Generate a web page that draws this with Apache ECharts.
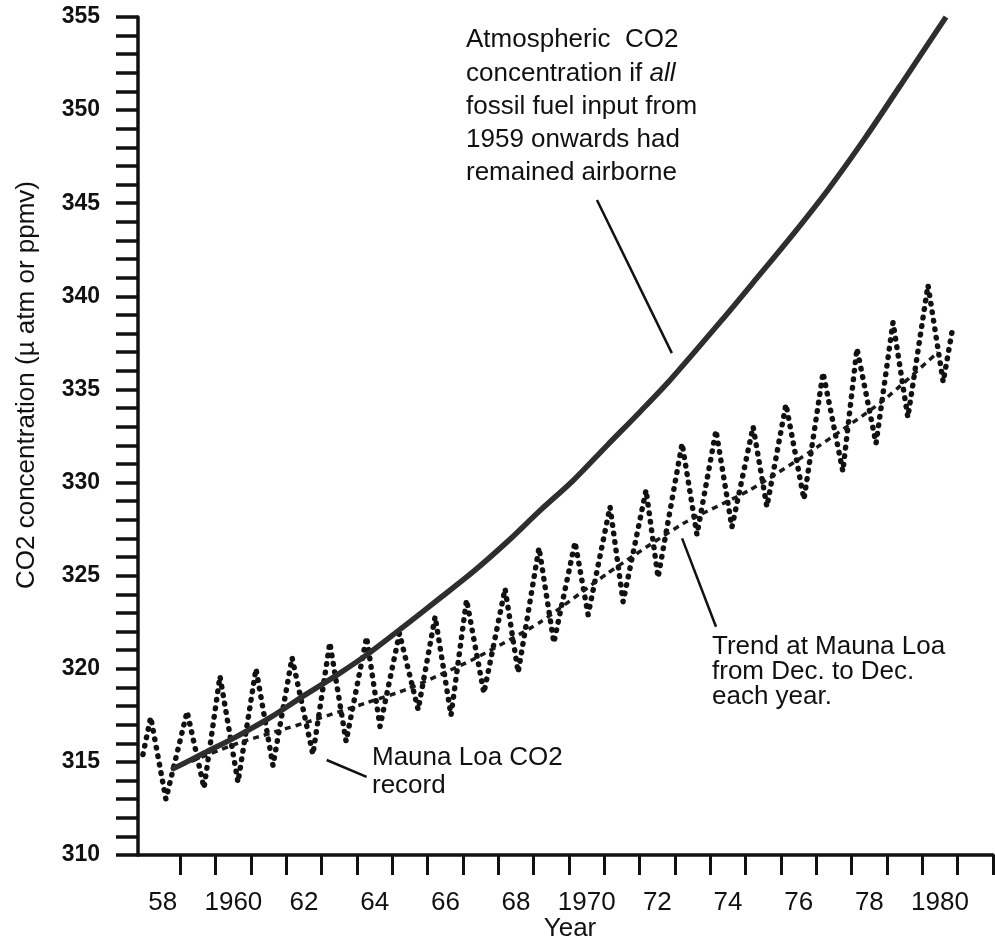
<!DOCTYPE html>
<html>
<head>
<meta charset="utf-8">
<script src="https://cdn.jsdelivr.net/npm/echarts@6/dist/echarts.min.js"></script>
<style>
  html, body { margin: 0; padding: 0; background: #ffffff; }
  #chart { width: 995px; height: 941px; }
</style>
</head>
<body>
<div id="chart"></div>
<script>
// ---------- data ----------
// Mauna Loa CO2 record (seasonal peaks / troughs)
const mlYears = [1957.94, 1958.16, 1958.59, 1959.19, 1959.67, 1960.12, 1960.63, 1961.14, 1961.62, 1962.16,
  1962.75, 1963.23, 1963.69, 1964.27, 1964.65, 1965.20, 1965.73, 1966.21, 1966.66, 1967.10,
  1967.59, 1968.19, 1968.56, 1969.15, 1969.57, 1970.17, 1970.54, 1971.16, 1971.53, 1972.18,
  1972.52, 1973.20, 1973.62, 1974.16, 1974.61, 1975.21, 1975.60, 1976.14, 1976.65, 1977.19,
  1977.75, 1978.15, 1978.69, 1979.17, 1979.59, 1980.16, 1980.59, 1980.84];
const mlValues = [315.4, 317.4, 313.0, 317.7, 313.6, 319.6, 313.9, 320.0, 314.8, 320.6,
  315.4, 321.4, 316.1, 321.7, 316.9, 321.9, 317.8, 322.8, 317.5, 323.7,
  318.7, 324.3, 319.8, 326.5, 321.4, 326.8, 322.9, 328.7, 323.6, 329.6,
  324.9, 332.1, 327.2, 332.8, 327.6, 333.0, 328.7, 334.2, 329.1, 335.9,
  330.6, 337.2, 332.1, 338.6, 333.5, 340.6, 335.4, 338.1];

// Trend at Mauna Loa from Dec. to Dec.
const trendYears = [1958.73, 1960.63, 1962.53, 1964.31, 1965.41, 1967.28, 1969.18, 1971.07, 1973.23, 1975.12, 1977.02, 1978.89, 1980.44];
const trendValues = [314.6, 316.0, 317.1, 318.2, 318.9, 320.5, 322.5, 325.1, 327.8, 329.6, 331.9, 334.4, 337.0];

// CO2 if all fossil fuel input had remained airborne
const airYears = [1958.76, 1959.70, 1960.63, 1961.56, 1962.53, 1963.46, 1964.31, 1965.41, 1966.35, 1967.28,
  1968.24, 1969.18, 1970.11, 1971.08, 1972.01, 1972.86, 1974.36, 1975.37, 1976.37, 1977.36,
  1978.38, 1979.37, 1980.67];
const airValues = [314.6, 315.5, 316.4, 317.4, 318.6, 319.7, 320.8, 322.4, 323.8, 325.2,
  326.8, 328.5, 330.1, 332.0, 333.8, 335.5, 338.8, 341.1, 343.4, 345.8,
  348.5, 351.3, 355.0];

// Leader lines of the annotations (data coordinates)
const leaderAirborne = [[1970.79, 345.17], [1972.91, 336.95]];
const leaderRecord = [[1963.14, 315.10], [1964.27, 314.20]];
const leaderTrend = [[1973.20, 327.00], [1974.16, 322.26]];

// Axis ticks and labels
const xTickYears = [1959, 1960, 1961, 1962, 1963, 1964, 1965, 1966, 1967, 1968, 1969, 1970,
  1971, 1972, 1973, 1974, 1975, 1976, 1977, 1978, 1979, 1980, 1981, 1982];
const xLabelPositions = [1958.5, 1960.5, 1962.5, 1964.5, 1966.5, 1968.5, 1970.5, 1972.5, 1974.5, 1976.5, 1978.5, 1980.5];
const xLabelTexts = ['58', '1960', '62', '64', '66', '68', '1970', '72', '74', '76', '78', '1980'];
const yLabelValues = [310, 315, 320, 325, 330, 335, 340, 345, 350, 355];

// ---------- chart ----------
const pairs = (xs, ys) => xs.map((x, i) => [x, ys[i]]);
const FONT = '"Liberation Sans", Arial, Helvetica, sans-serif';

const chart = echarts.init(document.getElementById('chart'), null, { renderer: 'canvas' });

const leaderSeries = (pts) => ({
  type: 'line', data: pts, symbol: 'none', silent: true, z: 5,
  lineStyle: { color: '#111', width: 2.5 }
});

chart.setOption({
  backgroundColor: '#ffffff',
  animation: false,
  grid: { left: 138, right: 2, top: 17, bottom: 86 },
  xAxis: {
    type: 'value', min: 1957.8, max: 1982,
    axisLine: { show: true, onZero: false, lineStyle: { color: '#111', width: 3.5 } },
    axisTick: { show: true, length: 20, customValues: xTickYears, lineStyle: { color: '#111', width: 3 } },
    axisLabel: {
      show: true, customValues: xLabelPositions, margin: 35,
      color: '#111', fontFamily: FONT, fontSize: 26,
      formatter: (v) => xLabelTexts[Math.round((v - xLabelPositions[0]) / 2)]
    },
    splitLine: { show: false }
  },
  yAxis: {
    type: 'value', min: 310, max: 355, interval: 1,
    axisLine: { show: true, lineStyle: { color: '#111', width: 3.5 } },
    axisTick: { show: true, length: 22, lineStyle: { color: '#111', width: 3.5 } },
    axisLabel: {
      show: true, customValues: yLabelValues, margin: 38,
      color: '#111', fontFamily: FONT, fontSize: 23, fontWeight: 'bold'
    },
    splitLine: { show: false }
  },
  series: [
    {
      name: 'Mauna Loa CO2 record', type: 'line', data: pairs(mlYears, mlValues),
      symbol: 'none', z: 3,
      lineStyle: { color: '#111', width: 5.5, type: [0.6, 8], cap: 'round', join: 'round' }
    },
    {
      name: 'Trend', type: 'line', data: pairs(trendYears, trendValues),
      symbol: 'none', z: 3, smooth: 0.2,
      lineStyle: { color: '#1a1a1a', width: 3.5, type: [6, 5] }
    },
    {
      name: 'Airborne', type: 'line', data: pairs(airYears, airValues),
      symbol: 'none', z: 4, smooth: 0.3,
      lineStyle: { color: '#2e2e2e', width: 5.5 }
    },
    leaderSeries(leaderAirborne),
    leaderSeries(leaderRecord),
    leaderSeries(leaderTrend)
  ],
  graphic: [
    { type: 'text', x: 27, y: 385, rotation: Math.PI / 2,
      style: { text: 'CO2 concentration (\u00b5 atm or ppmv)', fill: '#111', font: '26px ' + FONT, textAlign: 'center', textVerticalAlign: 'middle' } },
    { type: 'text', x: 570, y: 929,
      style: { text: 'Year', fill: '#111', font: '26px ' + FONT, textAlign: 'center', textVerticalAlign: 'middle' } },

    { type: 'text', x: 466, y: 40, style: { text: 'Atmospheric  CO2', fill: '#111', font: '26px ' + FONT, textVerticalAlign: 'middle' } },
    { type: 'text', x: 466, y: 74, style: {
        text: '{n|concentration if }{i|all}', textVerticalAlign: 'middle',
        rich: { n: { fill: '#111', fontFamily: FONT, fontSize: 26 }, i: { fill: '#111', fontFamily: FONT, fontSize: 26, fontStyle: 'italic' } } } },
    { type: 'text', x: 466, y: 107, style: { text: 'fossil fuel input from', fill: '#111', font: '26px ' + FONT, textVerticalAlign: 'middle' } },
    { type: 'text', x: 466, y: 140, style: { text: '1959 onwards had', fill: '#111', font: '26px ' + FONT, textVerticalAlign: 'middle' } },
    { type: 'text', x: 466, y: 173, style: { text: 'remained airborne', fill: '#111', font: '26px ' + FONT, textVerticalAlign: 'middle' } },

    { type: 'text', x: 372, y: 758, style: { text: 'Mauna Loa CO2', fill: '#111', font: '26px ' + FONT, textVerticalAlign: 'middle' } },
    { type: 'text', x: 372, y: 786, style: { text: 'record', fill: '#111', font: '26px ' + FONT, textVerticalAlign: 'middle' } },

    { type: 'text', x: 712, y: 647, style: { text: 'Trend at Mauna Loa', fill: '#111', font: '26px ' + FONT, textVerticalAlign: 'middle' } },
    { type: 'text', x: 712, y: 672, style: { text: 'from Dec. to Dec.', fill: '#111', font: '26px ' + FONT, textVerticalAlign: 'middle' } },
    { type: 'text', x: 712, y: 697, style: { text: 'each year.', fill: '#111', font: '26px ' + FONT, textVerticalAlign: 'middle' } }
  ]
});
</script>
</body>
</html>
